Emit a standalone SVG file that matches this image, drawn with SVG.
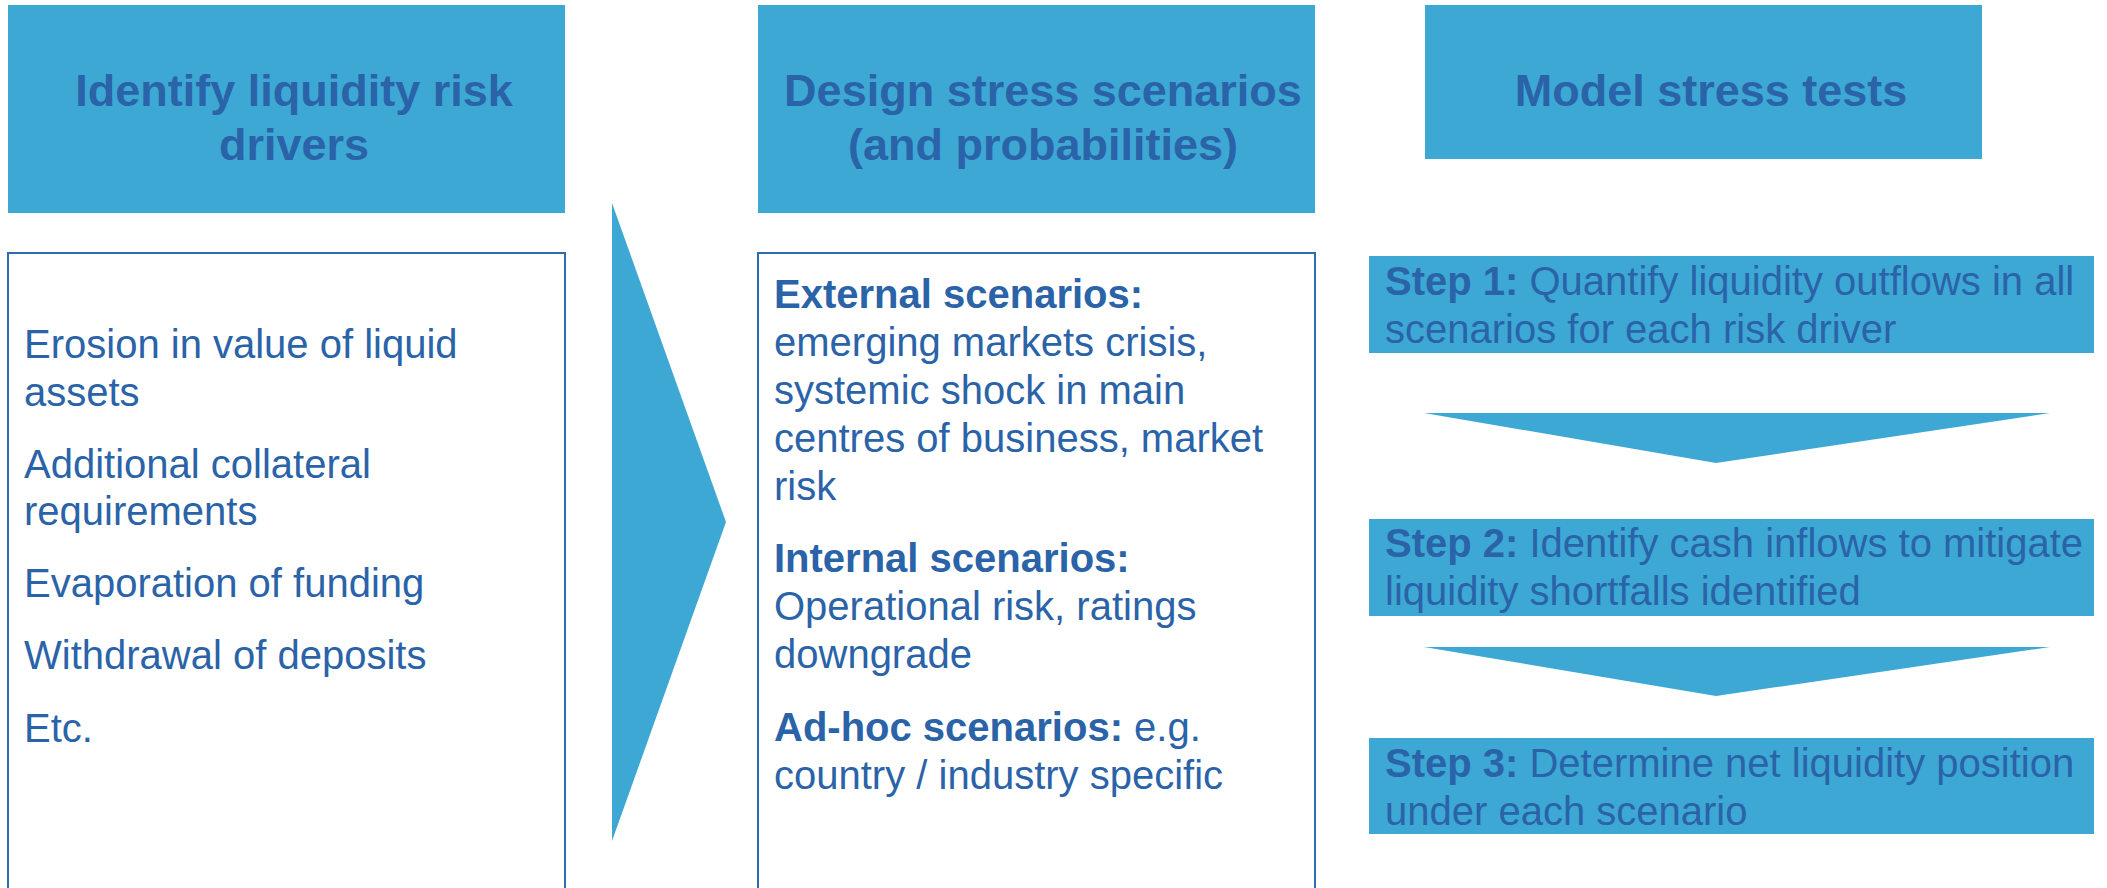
<svg xmlns="http://www.w3.org/2000/svg" width="2107" height="888" viewBox="0 0 2107 888">
  <style>
    .fill { fill: #3EA8D5; }
    .panel { fill: #FFFFFF; stroke: #2E6BB1; stroke-width: 2; }
    text { font-family: "Liberation Sans", Arial, sans-serif; fill: #2A63A8; }
    .head { font-size: 45px; font-weight: bold; text-anchor: middle; }
    .body { font-size: 40px; }
    .b { font-weight: bold; }
  </style>
  <rect width="2107" height="888" fill="#FFFFFF"/>

  <!-- column 1: risk drivers -->
  <g id="drivers-header">
    <rect class="fill" x="8" y="5" width="557" height="208"/>
    <text class="head" x="294" y="106">Identify liquidity risk</text>
    <text class="head" x="294" y="160">drivers</text>
  </g>
  <g id="drivers-list">
    <rect class="panel" x="8" y="253" width="557" height="700"/>
    <text class="body" x="24" y="358">Erosion in value of liquid</text>
    <text class="body" x="24" y="406">assets</text>
    <text class="body" x="24" y="478">Additional collateral</text>
    <text class="body" x="24" y="525">requirements</text>
    <text class="body" x="24" y="597">Evaporation of funding</text>
    <text class="body" x="24" y="669">Withdrawal of deposits</text>
    <text class="body" x="24" y="742">Etc.</text>
  </g>

  <!-- column 2: scenarios -->
  <g id="scenarios-header">
    <rect class="fill" x="758" y="5" width="557" height="208"/>
    <text class="head" x="1043" y="106">Design stress scenarios</text>
    <text class="head" x="1043" y="160">(and probabilities)</text>
  </g>
  <g id="scenarios-list">
    <rect class="panel" x="758" y="253" width="557" height="700"/>
    <text class="body b" x="774" y="308">External scenarios:</text>
    <text class="body" x="774" y="356">emerging markets crisis,</text>
    <text class="body" x="774" y="404">systemic shock in main</text>
    <text class="body" x="774" y="452">centres of business, market</text>
    <text class="body" x="774" y="500">risk</text>
    <text class="body b" x="774" y="572">Internal scenarios:</text>
    <text class="body" x="774" y="620">Operational risk, ratings</text>
    <text class="body" x="774" y="668">downgrade</text>
    <text class="body" x="774" y="741"><tspan class="b">Ad-hoc scenarios:</tspan> e.g.</text>
    <text class="body" x="774" y="789">country / industry specific</text>
  </g>

  <!-- column 3: stress test model -->
  <g id="model-header">
    <rect class="fill" x="1425" y="5" width="557" height="154"/>
    <text class="head" x="1711" y="106">Model stress tests</text>
  </g>
  <g id="step-1">
    <rect class="fill" x="1369" y="256" width="725" height="97"/>
    <text class="body" x="1385" y="295"><tspan class="b">Step 1:</tspan> Quantify liquidity outflows in all</text>
    <text class="body" x="1385" y="343">scenarios for each risk driver</text>
  </g>
  <g id="step-2">
    <rect class="fill" x="1369" y="519" width="725" height="97"/>
    <text class="body" x="1385" y="557"><tspan class="b">Step 2:</tspan> Identify cash inflows to mitigate</text>
    <text class="body" x="1385" y="605">liquidity shortfalls identified</text>
  </g>
  <g id="step-3">
    <rect class="fill" x="1369" y="738" width="725" height="96"/>
    <text class="body" x="1385" y="777"><tspan class="b">Step 3:</tspan> Determine net liquidity position</text>
    <text class="body" x="1385" y="825">under each scenario</text>
  </g>

  <!-- flow arrows -->
  <g id="connectors">
    <polygon class="fill" points="612,203 726,522 612,841"/>
    <polygon class="fill" points="1424,413 2050,413 1716,463"/>
    <polygon class="fill" points="1424,647 2050,647 1716,696"/>
  </g>
</svg>
